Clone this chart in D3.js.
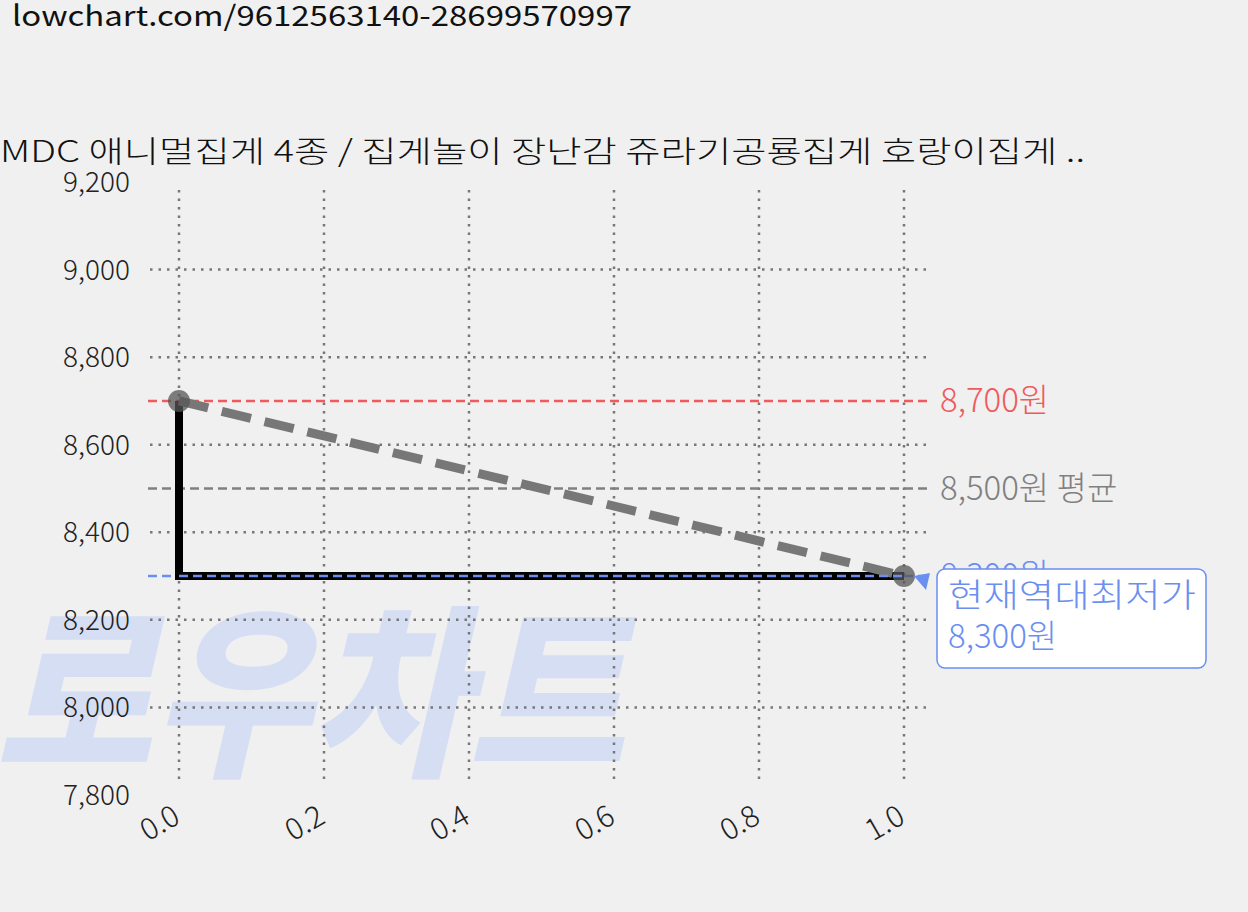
<!DOCTYPE html>
<html><head><meta charset="utf-8">
<script src="https://cdn.jsdelivr.net/npm/d3@7"></script>
<style>body{margin:0;background:#f0f0f0;font-family:"Noto Sans CJK KR","Noto Sans",sans-serif}</style>
</head><body><svg id="c" width="1248" height="912"></svg>
<script>
const xValues=[0,1];
const prices=[8700,8300];
const stepX=[0,0,1];
const stepY=[8700,8300,8300];
const yTicks=[7800,8000,8200,8400,8600,8800,9000,9200];
const xTicks=[0,0.2,0.4,0.6,0.8,1.0];
const maxPrice=8700, avgPrice=8500, minPrice=8300;
const title="MDC 애니멀집게 4종 / 집게놀이 장난감 쥬라기공룡집게 호랑이집게 ..";
const url="lowchart.com/9612563140-28699570997";

const svg=d3.select("#c");
const x=d3.scaleLinear().domain([0,1]).range([179,904]);
const y=d3.scaleLinear().domain([7800,9200]).range([795,182]);
const fmt=d3.format(",");

svg.append("text").attr("x",12).attr("y",26).attr("font-size",28).attr("fill","#111")
 .attr("textLength",620).attr("lengthAdjust","spacingAndGlyphs").text(url);
svg.append("text").attr("x",0).attr("y",162).attr("font-size",30).attr("font-weight",300).attr("fill","#111")
 .attr("textLength",1085).attr("lengthAdjust","spacingAndGlyphs").text(title);

// watermark
svg.append("text").attr("x",-5).attr("y",762).attr("font-size",185).attr("font-weight",900)
 .attr("font-style","italic").attr("fill","#d5def2").attr("textLength",630).attr("lengthAdjust","spacingAndGlyphs").text("로우차트");

const g=svg.append("g");
g.selectAll(".hg").data(yTicks.filter(v=>v>7800&&v<9200)).join("line")
 .attr("x1",150).attr("x2",932).attr("y1",d=>y(d)).attr("y2",d=>y(d))
 .attr("stroke","#777").attr("stroke-width",2.5).attr("stroke-dasharray","2.5,6");
g.selectAll(".vg").data(xTicks).join("line")
 .attr("x1",d=>x(d)).attr("x2",d=>x(d)).attr("y1",190).attr("y2",785)
 .attr("stroke","#777").attr("stroke-width",2.5).attr("stroke-dasharray","2.5,6");

g.selectAll(".yl").data(yTicks).join("text").attr("x",130).attr("y",d=>y(d)+10)
 .attr("text-anchor","end").attr("font-size",28).attr("font-weight",300).attr("fill","#222").text(d=>fmt(d));
g.selectAll(".xl").data(xTicks).join("text")
 .attr("transform",d=>`translate(${x(d)+3},${822}) rotate(-30)`)
 .attr("text-anchor","end").attr("font-size",30).attr("font-weight",300).attr("fill","#222").text(d=>d.toFixed(1));

const refs=[[maxPrice,"#f05a5a",fmt(maxPrice)+"원"],[avgPrice,"#808080",fmt(avgPrice)+"원 평균"],[minPrice,"#6b8ff0",fmt(minPrice)+"원"]];
refs.forEach(([v,c,t])=>{
 g.append("line").attr("x1",148).attr("x2",932).attr("y1",y(v)).attr("y2",y(v))
  .attr("stroke",c).attr("stroke-width",2.5).attr("stroke-dasharray","9,5");
 g.append("text").attr("x",940).attr("y",y(v)+11).attr("font-size",33).attr("font-weight",300).attr("fill",c).text(t);
});

g.append("path").datum(stepX.map((d,i)=>[d,stepY[i]]))
 .attr("d",d3.line().x(d=>x(d[0])).y(d=>y(d[1])))
 .attr("fill","none").attr("stroke","#000").attr("stroke-width",8);
g.append("path").datum(xValues.map((d,i)=>[d,prices[i]]))
 .attr("d",d3.line().x(d=>x(d[0])).y(d=>y(d[1])))
 .attr("fill","none").attr("stroke","#777").attr("stroke-width",9).attr("stroke-dasharray","30,14");
g.selectAll(".pt").data(xValues).join("circle").attr("cx",d=>x(d)).attr("cy",(d,i)=>y(prices[i]))
 .attr("r",11).attr("fill","#555").attr("opacity",0.75);
g.append("line").attr("x1",x(0)).attr("x2",x(1)).attr("y1",y(minPrice)).attr("y2",y(minPrice))
 .attr("stroke","#6b8ff0").attr("stroke-width",2.5).attr("stroke-dasharray","9,5");

g.append("path").attr("d",`M${x(1)+10},${y(minPrice)} L${x(1)+26},${y(minPrice)-3} L${x(1)+22},${y(minPrice)+14}Z`).attr("fill","#6b8ff0");
g.append("rect").attr("x",937).attr("y",569).attr("width",269).attr("height",99).attr("rx",8)
 .attr("fill","#fff").attr("stroke","#6b8ff0").attr("stroke-width",1.5);
g.append("text").attr("x",948).attr("y",607).attr("font-size",33).attr("font-weight",300).attr("fill","#6b8ff0")
 .attr("textLength",248).attr("lengthAdjust","spacingAndGlyphs").text("현재역대최저가");
g.append("text").attr("x",948).attr("y",648).attr("font-size",33).attr("font-weight",300).attr("fill","#6b8ff0").text(fmt(minPrice)+"원");
</script></body></html>
